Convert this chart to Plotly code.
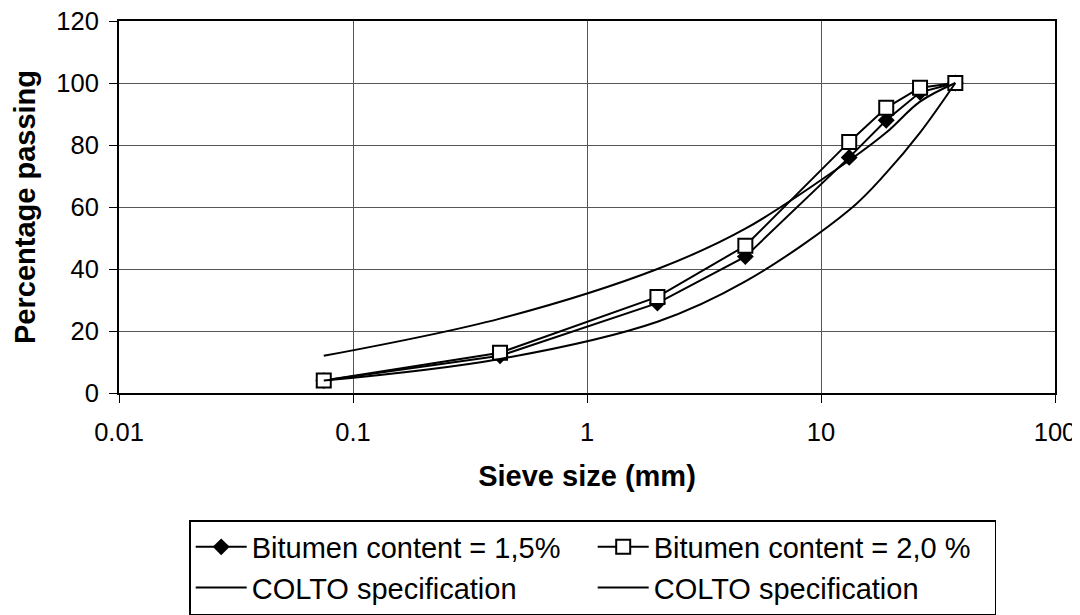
import plotly.graph_objects as go

# Sieve sizes (mm)
sieve = [0.075, 0.425, 2.0, 4.75, 13.2, 19.0, 26.5, 37.5]
# Percentage passing
bitumen_15 = [4, 12, 29, 44, 76, 88, 97, 100]
bitumen_20 = [4, 13, 31, 47.5, 81, 92, 98.5, 100]
colto_upper = [12, 24, 40, 53, 75, 84, 94, 100]
colto_lower = [4, 11, 23, 36, 59, 71, 84, 100]

x_tickvals = [0.01, 0.1, 1, 10, 100]
x_ticktext = ["0.01", "0.1", "1", "10", "100"]
y_tickvals = [0, 20, 40, 60, 80, 100, 120]

FONT = "Liberation Sans, Arial, sans-serif"

fig = go.Figure()
fig.add_trace(go.Scatter(
    x=sieve, y=bitumen_15, mode="lines+markers",
    name="Bitumen content = 1,5%",
    line=dict(color="black", width=2),
    marker=dict(symbol="diamond", size=13, color="black"),
))
fig.add_trace(go.Scatter(
    x=sieve, y=bitumen_20, mode="lines+markers",
    name="Bitumen content = 2,0 %",
    line=dict(color="black", width=2),
    marker=dict(symbol="square", size=14, color="white",
                line=dict(color="black", width=2)),
))
fig.add_trace(go.Scatter(
    x=sieve, y=colto_upper, mode="lines",
    name="COLTO specification",
    line=dict(color="black", width=2, shape="spline", smoothing=1),
))
fig.add_trace(go.Scatter(
    x=sieve, y=colto_lower, mode="lines",
    name="COLTO specification",
    line=dict(color="black", width=2, shape="spline", smoothing=1),
))

# The page body adds an 8 px offset, so the figure is 8 px smaller.
fig.update_layout(
    width=1072, height=607,
    margin=dict(l=111, r=25, t=13, b=222),
    paper_bgcolor="white", plot_bgcolor="white",
    font=dict(family=FONT, size=25, color="black"),
    showlegend=True,
    legend=dict(
        orientation="h",
        x=0.075, xanchor="left",
        yref="container", y=0, yanchor="bottom",
        itemwidth=51,
        entrywidth=336, entrywidthmode="pixels",
        bordercolor="black", borderwidth=1.5,
        bgcolor="white",
        font=dict(family=FONT, size=29, color="black"),
        traceorder="normal",
    ),
    xaxis=dict(
        type="log", range=[-2, 2],
        tickvals=x_tickvals, ticktext=x_ticktext,
        showgrid=True, gridcolor="#555555", gridwidth=1,
        showline=True, linecolor="black", linewidth=2, mirror=True,
        ticks="outside", ticklen=8, tickwidth=1, tickcolor="black",
        ticklabelstandoff=7, ticklabeloverflow="allow",
        tickfont=dict(family=FONT, size=25.5),
        title=dict(text="<b>Sieve size (mm)</b>",
                   font=dict(family=FONT, size=29), standoff=21),
        zeroline=False, automargin=False,
    ),
    yaxis=dict(
        range=[0, 120], tickvals=y_tickvals,
        showgrid=True, gridcolor="#555555", gridwidth=1,
        showline=True, linecolor="black", linewidth=2, mirror=True,
        ticks="outside", ticklen=8, tickwidth=1, tickcolor="black",
        ticklabelstandoff=5, ticklabeloverflow="allow",
        tickfont=dict(family=FONT, size=25.5),
        title=dict(text="<b>Percentage passing</b>",
                   font=dict(family=FONT, size=29), standoff=12),
        zeroline=False, automargin=False,
    ),
)

fig.write_html("out.html")
